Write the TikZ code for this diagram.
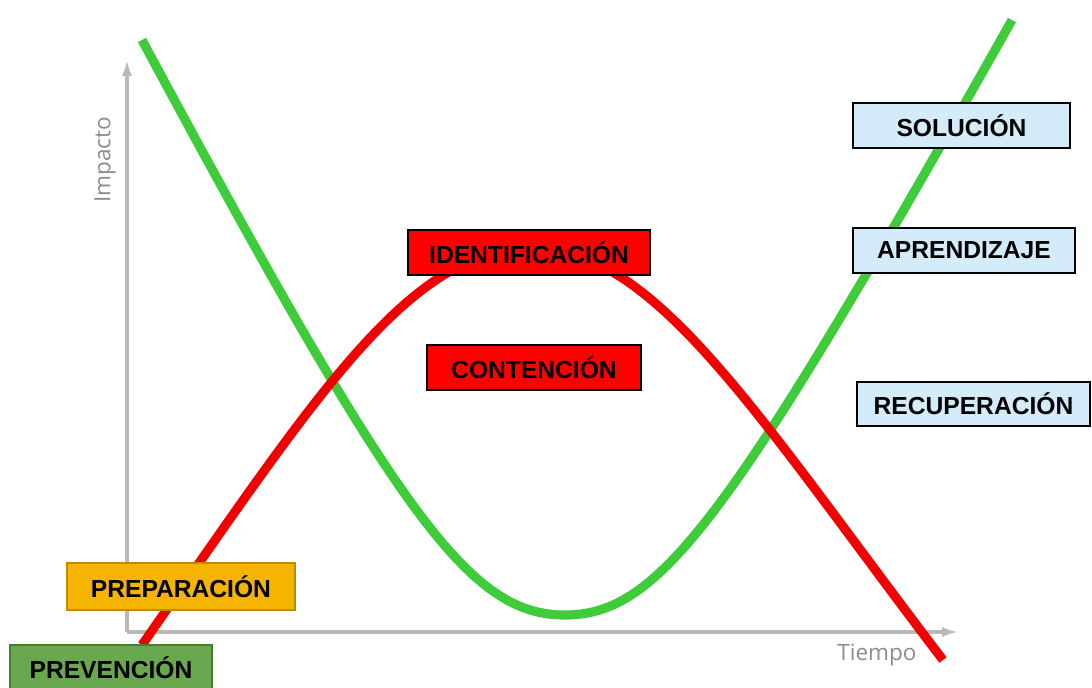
\documentclass[tikz,border=0pt]{standalone}
\usepackage{fontspec}
\setmainfont{Liberation Sans}
\newfontfamily\axisfont{Open Sans}
\usepackage{tikz}
\usetikzlibrary{arrows.meta}
\definecolor{curvegreen}{RGB}{62,204,58}
\definecolor{curvered}{RGB}{242,0,0}
\definecolor{axisgray}{RGB}{185,185,185}
\definecolor{labelgray}{RGB}{140,140,140}
\definecolor{prevfill}{RGB}{106,168,79}
\definecolor{prevdraw}{RGB}{72,125,52}
\definecolor{prepfill}{RGB}{245,180,0}
\definecolor{prepdraw}{RGB}{190,140,10}
\definecolor{phasefill}{RGB}{255,0,0}
\definecolor{recfill}{RGB}{212,236,250}
\tikzstyle{phase} = [rectangle, draw=black, line width=2pt, text=black,
  minimum height=1.125cm, inner sep=0pt, font=\fontsize{17.5}{20}\selectfont\bfseries]
\tikzstyle{axis} = [axisgray, line width=2.2pt, -{Latex[length=4mm, width=2.6mm]}]
\tikzstyle{curve} = [line width=6.5pt]

\begin{document}
\begin{tikzpicture}[x=0.025cm, y=-0.025cm]
    \useasboundingbox (0,0) rectangle (1092,688);
    \clip (0,0) rectangle (1092,688);
    % axes
    \coordinate (o) at (127,632);
    \coordinate (ytop) at (127,60);
    \coordinate (xend) at (958,632);
    \draw[axis] (o) -- (ytop);
    \draw[axis] (o) -- (xend);
    \node[rotate=90, text=labelgray, font=\axisfont\fontsize{16}{18}\selectfont] (impacto) at (105,160) {Impacto};
    \node[text=labelgray, font=\axisfont\fontsize{16}{18}\selectfont] (tiempo) at (877,655) {Tiempo};
    % curves
    \draw[curve, curvegreen] (142,40) .. controls (400,520) and (470,615) .. (565,615)
      .. controls (660,615) and (730,520) .. (1012,20);
    \draw[curve, curvered] (142,645) .. controls (320,390) and (410,248) .. (533,248)
      .. controls (656,248) and (760,420) .. (943,660);
    % phases
    \node[phase, fill=prevfill, draw=prevdraw, minimum width=5.05cm, minimum height=1.15cm] (prev) at (111,668) {PREVENCIÓN};
    \node[phase, fill=prepfill, draw=prepdraw, minimum width=5.7cm, minimum height=1.175cm] (prep) at (181,586.5) {PREPARACIÓN};
    \node[phase, fill=phasefill, minimum width=6.05cm] (ident) at (529,252.5) {IDENTIFICACIÓN};
    \node[phase, fill=phasefill, minimum width=5.35cm] (cont) at (534,367.5) {CONTENCIÓN};
    \node[phase, fill=recfill, minimum width=5.425cm] (sol) at (961.5,125.5) {SOLUCIÓN};
    \node[phase, fill=recfill, minimum width=5.55cm] (apr) at (964,250.5) {APRENDIZAJE};
    \node[phase, fill=recfill, minimum width=5.825cm, minimum height=1.1cm] (rec) at (973.5,404) {RECUPERACIÓN};
  \end{tikzpicture}
\end{document}
